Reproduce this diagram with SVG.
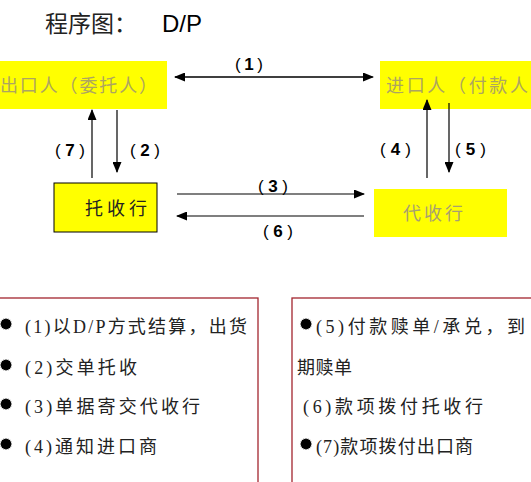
<svg xmlns="http://www.w3.org/2000/svg" width="531" height="482" viewBox="0 0 531 482">
<style>
.box{fill:#ffff00}
.lbl{font-family:'Liberation Sans',sans-serif;font-size:17px;fill:#000}
.lbl tspan.d{font-weight:bold}
.nt{font-family:'Noto Sans CJK SC',sans-serif;font-size:18px}
.bt{font-family:'Liberation Serif','Noto Sans CJK SC',serif;font-size:18px;fill:#222}
.ln{stroke:#000;stroke-width:1.2;fill:none}
.frame{fill:#fff;stroke:#a3262e;stroke-width:1.3}
</style>
<defs>
<marker id="ah" markerWidth="11" markerHeight="9" refX="10" refY="4.5" orient="auto" markerUnits="userSpaceOnUse">
<path d="M0,0 L11,4.5 L0,9 Z" fill="#000"/>
</marker>
<polygon id="star" fill="#000" points="6,0 4.8,0.95 5.54,2.30 4.07,2.72 4.24,4.24 2.72,4.07 2.30,5.54 0.95,4.8 0,6 -0.95,4.8 -2.30,5.54 -2.72,4.07 -4.24,4.24 -4.07,2.72 -5.54,2.30 -4.8,0.95 -6,0 -4.8,-0.95 -5.54,-2.30 -4.07,-2.72 -4.24,-4.24 -2.72,-4.07 -2.30,-5.54 -0.95,-4.8 0,-6 0.95,-4.8 2.30,-5.54 2.72,-4.07 4.24,-4.24 4.07,-2.72 5.54,-2.30 4.8,-0.95"/>
</defs>
<rect width="531" height="482" fill="#fff"/>
<g id="title">
<text x="45" y="32" font-family="'Noto Sans CJK SC',sans-serif" font-size="23" fill="#222">程序图：</text>
<text x="162" y="32" font-family="'Liberation Sans',sans-serif" font-size="24" fill="#000">D/P</text>
</g>
<g id="exporter">
<rect class="box" x="0" y="61" width="167" height="48"/>
<text class="nt" x="0" y="92" fill="#ada560" textLength="157" lengthAdjust="spacing">出口人（委托人）</text>
</g>
<g id="importer">
<rect class="box" x="380" y="61" width="151" height="48"/>
<text class="nt" x="386" y="92" fill="#ada560" textLength="142" lengthAdjust="spacing">进口人（付款人</text>
</g>
<g id="remitting-bank">
<rect class="box" x="54" y="183" width="103" height="49" stroke="#000" stroke-width="1"/>
<text class="nt" x="85" y="215" fill="#222" font-size="19" textLength="62" lengthAdjust="spacing">托收行</text>
</g>
<g id="collecting-bank">
<rect class="box" x="374" y="189" width="133" height="48"/>
<text class="nt" x="403" y="220" fill="#a8a070" font-size="19" textLength="60" lengthAdjust="spacing">代收行</text>
</g>
<g id="connectors">
<line class="ln" x1="372" y1="77" x2="175" y2="77" marker-end="url(#ah)"/>
<line class="ln" x1="175" y1="77" x2="373" y2="77" marker-end="url(#ah)"/>
<line class="ln" x1="92" y1="178" x2="92" y2="110" marker-end="url(#ah)"/>
<line class="ln" x1="117" y1="110" x2="117" y2="172" marker-end="url(#ah)"/>
<line class="ln" x1="177" y1="194" x2="364" y2="194" marker-end="url(#ah)"/>
<line class="ln" x1="364" y1="216" x2="177" y2="216" marker-end="url(#ah)"/>
<line class="ln" x1="427" y1="178" x2="427" y2="100" marker-end="url(#ah)"/>
<line class="ln" x1="449" y1="103" x2="449" y2="172" marker-end="url(#ah)"/>
<text class="lbl" x="235" y="70" textLength="28" lengthAdjust="spacing">(<tspan class="d">1</tspan>)</text>
<text class="lbl" x="55" y="156" textLength="30" lengthAdjust="spacing">(<tspan class="d">7</tspan>)</text>
<text class="lbl" x="130" y="156" textLength="30" lengthAdjust="spacing">(<tspan class="d">2</tspan>)</text>
<text class="lbl" x="380" y="155" textLength="31" lengthAdjust="spacing">(<tspan class="d">4</tspan>)</text>
<text class="lbl" x="455" y="155" textLength="31" lengthAdjust="spacing">(<tspan class="d">5</tspan>)</text>
<text class="lbl" x="258" y="192" textLength="30" lengthAdjust="spacing">(<tspan class="d">3</tspan>)</text>
<text class="lbl" x="263" y="237" textLength="30" lengthAdjust="spacing">(<tspan class="d">6</tspan>)</text>
</g>
<g id="legend-left">
<rect class="frame" x="-2" y="298" width="260" height="190"/>
<use href="#star" x="6" y="324"/>
<text class="bt" x="25" y="333" textLength="222" lengthAdjust="spacing">(1)以D/P方式结算，出货</text>
<use href="#star" x="6" y="365"/>
<text class="bt" x="25" y="374" textLength="112" lengthAdjust="spacing">(2)交单托收</text>
<use href="#star" x="6" y="404"/>
<text class="bt" x="25" y="413" textLength="175" lengthAdjust="spacing">(3)单据寄交代收行</text>
<use href="#star" x="6" y="444"/>
<text class="bt" x="25" y="453" textLength="132" lengthAdjust="spacing">(4)通知进口商</text>
</g>
<g id="legend-right">
<rect class="frame" x="292" y="298" width="250" height="190"/>
<use href="#star" x="306" y="324"/>
<text class="bt" x="316" y="333" textLength="209" lengthAdjust="spacing">(5)付款赎单/承兑，到</text>
<text class="bt" x="297" y="374" textLength="55" lengthAdjust="spacing">期赎单</text>
<text class="bt" x="303" y="413" textLength="180" lengthAdjust="spacing">(6)款项拨付托收行</text>
<use href="#star" x="306" y="444"/>
<text class="bt" x="316" y="453" textLength="157" lengthAdjust="spacing">(7)款项拨付出口商</text>
</g>
</svg>
